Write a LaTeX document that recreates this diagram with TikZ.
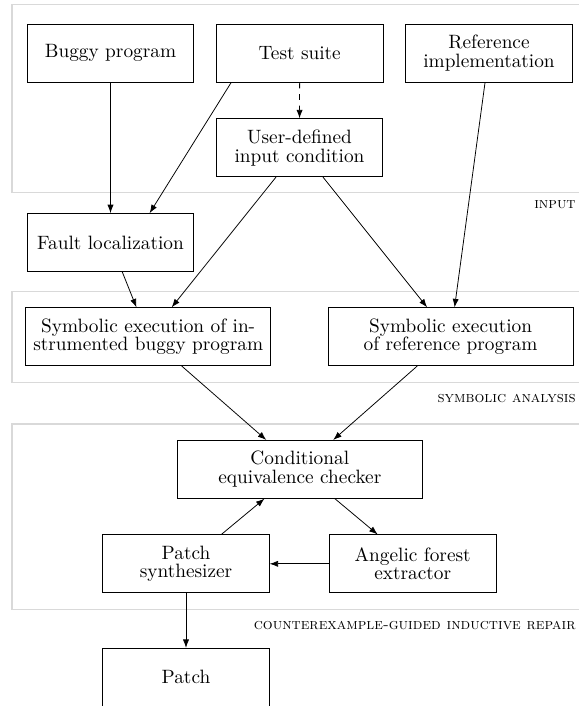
\documentclass[tikz,border=0pt]{standalone}
\usetikzlibrary{arrows.meta,calc}
\begin{document}
\begin{tikzpicture}[x=0.518pt,y=-0.518pt,
  box/.style={draw, minimum width=86.2pt, minimum height=30pt, align=center, inner sep=2pt,
    font=\fontsize{10}{9.7}\selectfont},
  widebox/.style={box, minimum width=127pt},
  group/.style={draw=black!15, line width=0.8pt},
  grouplabel/.style={anchor=east, font=\footnotesize\scshape, inner sep=0pt},
  flow/.style={-{Latex[length=4.4pt,width=3.2pt]}},
]
\useasboundingbox (0,0) rectangle (579,706);
\clip (0,0) rectangle (579,706);

% stage frames
\draw[group] (12.2,4.7) rectangle (590,192.7);
\draw[group] (12.2,291.7) rectangle (590,382.7);
\draw[group] (12.2,424) rectangle (590,609.3);

\node[grouplabel] (lin) at (576,204.5) {input};
\node[grouplabel] (lsym) at (576,398) {symbolic analysis};
\node[grouplabel] (lcegir) at (576,625) {counterexample-guided inductive repair};

% inputs
\node[box] (buggy) at (110.5,53.2) {Buggy program};
\node[box] (test) at (299.7,53.2) {Test suite};
\node[box] (ref) at (489,53.2) {Reference\\implementation};
\node[box] (user) at (299.5,147.7) {User-defined\\input condition};
\node[box] (fault) at (110.5,242.5) {Fault localization};

% symbolic analysis
\node[widebox] (symb) at (148.2,336.7) {Symbolic execution of in-\\strumented buggy program};
\node[widebox] (symr) at (450.6,336.7) {Symbolic execution\\of reference program};

% repair loop
\node[widebox] (check) at (299.8,469.3) {Conditional\\equivalence checker};
\node[box] (synth) at (186,563.8) {Patch\\synthesizer};
\node[box] (angelic) at (412.7,563.8) {Angelic forest\\extractor};
\node[box] (patch) at (186,677.3) {Patch};

% connectors
\draw[flow] (buggy) -- (fault);
\draw[flow] ($(test.south west)!0.09!(test.south east)$) -- ($(fault.north west)!0.734!(fault.north east)$);
\draw[flow, dashed] (test) -- (user);
\draw[flow] (ref) -- (symr);
\draw[flow] (user) -- (symb);
\draw[flow] (user) -- (symr);
\draw[flow] (fault) -- (symb);
\draw[flow] (symb) -- (check);
\draw[flow] (symr) -- (check);
\draw[flow] (check) -- (angelic);
\draw[flow] (synth) -- (check);
\draw[flow] (angelic) -- (synth);
\draw[flow] (synth) -- (patch);
\end{tikzpicture}
\end{document}
